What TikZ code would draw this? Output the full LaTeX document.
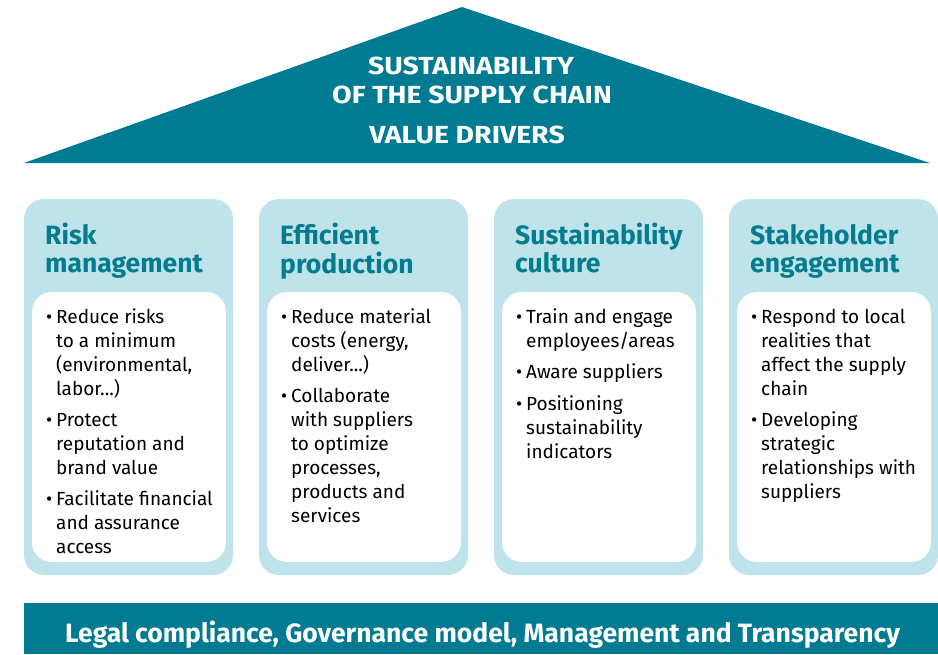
\documentclass[tikz,border=0pt]{standalone}
\usepackage{fontspec}
\setmainfont{Fira Sans}
\newfontfamily\boldf{Fira Sans Bold}
\newfontfamily\widef[FakeStretch=1.15]{Fira Sans Bold}
\definecolor{teal1}{HTML}{007B91}
\definecolor{lightb}{HTML}{BEE3EA}
\definecolor{titlec}{HTML}{047C8E}
\newcommand{\bl}{\llap{\textbullet\hskip 4pt}}
\newenvironment{blines}{\def\arraystretch{1}\begin{tabular}[t]{@{}l@{}}}{\end{tabular}}
\tikzset{
  outerbox/.style={fill=lightb, rounded corners=20pt},
  innerbox/.style={fill=white, rounded corners=20pt},
  ptitle/.style={anchor=base west, inner sep=0pt, text=titlec, font=\boldf\fontsize{26.5}{28}\selectfont},
  pbody/.style={anchor=base west, inner sep=0pt, text=black, font=\fontsize{19}{24}\selectfont},
  toptext/.style={anchor=base, inner sep=0pt, text=white, font=\widef\fontsize{24.7}{29}\selectfont},
}
\begin{document}
\begin{tikzpicture}[x=1pt,y=-1pt]
\useasboundingbox (0,0) rectangle (938,654);
% roof
\fill[teal1] (462,7) -- (930,163) -- (24,163) -- cycle;
\node[toptext] (t1) at (471,74) {SUSTAINABILITY};
\node[toptext] (t2) at (472,103) {OF THE SUPPLY CHAIN};
\node[toptext] (t3) at (467,143) {VALUE DRIVERS};
% pillars
\foreach \x/\n in {24/a,259/b,494/c,729/d}{
  \fill[outerbox] (\x,199) rectangle ++(209,376);
  \fill[innerbox] (\x+8,292) rectangle ++(194,270);
}
\node[ptitle] (h1) at (45,244) {\begin{blines}Risk\\management\end{blines}};
\node[ptitle] (h2) at (280,244) {\begin{blines}Efficient\\production\end{blines}};
\node[ptitle] (h3) at (515,244) {\begin{blines}Sustainability\\culture\end{blines}};
\node[ptitle] (h4) at (750,244) {\begin{blines}Stakeholder\\engagement\end{blines}};
\node[pbody] (b1) at (56,323) {\begin{blines}
\bl Reduce risks\\ to a minimum\\ (environmental,\\ labor...)\\[7.5pt]
\bl Protect\\ reputation and\\ brand value\\[6.5pt]
\bl Facilitate financial\\ and assurance\\ access\end{blines}};
\node[pbody] (b2) at (291,323) {\begin{blines}
\bl Reduce material\\ costs (energy,\\ deliver...)\\[7.5pt]
\bl Collaborate\\ with suppliers\\ to optimize\\ processes,\\ products and\\ services\end{blines}};
\node[pbody] (b3) at (526,323) {\begin{blines}
\bl Train and engage\\ employees/areas\\[7.5pt]
\bl Aware suppliers\\[7.5pt]
\bl Positioning\\ sustainability\\ indicators\end{blines}};
\node[pbody] (b4) at (761,323) {\begin{blines}
\bl Respond to local\\ realities that\\ affect the supply\\ chain\\[7.5pt]
\bl Developing\\ strategic\\ relationships with\\ suppliers\end{blines}};
% base
\fill[teal1] (24,603) rectangle (938,654);
\node[anchor=base west, inner sep=0pt, text=white, font=\boldf\fontsize{26.5}{28}\selectfont] (base) at (65,642) {Legal compliance, Governance model, Management and Transparency};
\end{tikzpicture}
\end{document}
